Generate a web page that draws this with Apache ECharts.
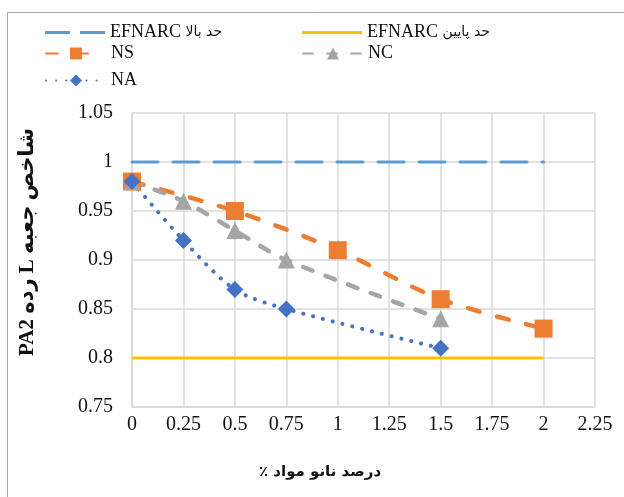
<!DOCTYPE html>
<html><head><meta charset="utf-8">
<script src="https://cdn.jsdelivr.net/npm/echarts@6/dist/echarts.min.js"></script>
<style>html,body{margin:0;padding:0;background:#fff}#c{width:624px;height:497px}</style>
</head><body><div id="c"></div>
<script>
// Data
const seriesNames = ['EFNARC حد بالا', 'EFNARC حد پایین', 'NS', 'NC', 'NA'];
const limitX = [0, 2];
const upperLimit = [1.0, 1.0];
const lowerLimit = [0.8, 0.8];
const nsX = [0, 0.5, 1, 1.5, 2];
const nsY = [0.98, 0.95, 0.91, 0.86, 0.83];
const ncX = [0, 0.25, 0.5, 0.75, 1.5];
const ncY = [0.98, 0.96, 0.93, 0.90, 0.84];
const naX = [0, 0.25, 0.5, 0.75, 1.5];
const naY = [0.98, 0.92, 0.87, 0.85, 0.81];
const xTitle = '٪ درصد نانو مواد';
const yTitle = 'PA2 رده L شاخص جعبه';

const pairs = (xs, ys) => xs.map((x, i) => [x, ys[i]]);
const serif = '"Liberation Serif", "Times New Roman", "DejaVu Sans", serif';
const chart = echarts.init(document.getElementById('c'), null, {renderer: 'canvas'});

// split latin / arabic parts so that Arabic can use a smaller font
const legendFmt = name => {
  const m = name.match(/^([A-Za-z0-9]+)\s+(.+)$/);
  return m ? '{a|' + m[1] + '} {b|' + m[2] + '}' : '{a|' + name + '}';
};
const legendBase = (item, left, centerY, h) => ({
  data: [item], left: left, top: centerY - h / 2, itemWidth: 60, itemHeight: h,
  padding: 0, formatter: legendFmt,
  textStyle: {fontFamily: serif, fontSize: 18, color: '#111',
    rich: {a: {fontFamily: serif, fontSize: 18, color: '#111'},
           b: {fontFamily: '"DejaVu Sans", sans-serif', fontSize: 14, color: '#111'}}}
});

chart.setOption({
  animation: false,
  backgroundColor: '#fff',
  legend: [
    legendBase({name: seriesNames[0], icon: 'path://M0,0h25v3h-25z M35,0h25v3h-25z',
      itemStyle: {color: '#5b9bd5', borderWidth: 0}, lineStyle: {width: 0}}, 45, 25, 3),
    legendBase({name: seriesNames[1], icon: 'rect',
      itemStyle: {color: '#ffc000', borderWidth: 0}, lineStyle: {width: 0}}, 302, 25, 3),
    legendBase(seriesNames[2], 45, 52, 15),
    legendBase(seriesNames[3], 302, 52, 15),
    legendBase(seriesNames[4], 45, 79, 15)
  ],
  grid: {left: 132, top: 113, right: 29, bottom: 90, containLabel: false},
  xAxis: {
    type: 'value', min: 0, max: 2.25, interval: 0.25,
    axisLine: {show: true, lineStyle: {color: '#d9d9d9', width: 1.5}},
    axisTick: {show: false},
    splitLine: {show: true, lineStyle: {color: '#d9d9d9', width: 1.5}},
    axisLabel: {fontFamily: serif, fontSize: 20, color: '#111', margin: 8,
      formatter: v => String(+v.toFixed(2))}
  },
  yAxis: {
    type: 'value', min: 0.75, max: 1.05, interval: 0.05,
    axisLine: {show: true, lineStyle: {color: '#d9d9d9', width: 1.5}},
    axisTick: {show: false},
    splitLine: {show: true, lineStyle: {color: '#d9d9d9', width: 1.5}},
    axisLabel: {fontFamily: serif, fontSize: 20, color: '#111', margin: 19,
      formatter: v => String(+v.toFixed(2))}
  },
  graphic: [
    {type: 'rect', left: 5, top: 10, silent: true,
      shape: {width: 700, height: 600}, style: {fill: 'none', stroke: '#a6a6a6', lineWidth: 1}},
    {type: 'text', x: 320, y: 472, silent: true,
      style: {text: xTitle, font: 'bold 15px "DejaVu Sans", sans-serif', fill: '#111', align: 'center', verticalAlign: 'middle'}},
    {type: 'text', x: 28, y: 242, rotation: Math.PI / 2, silent: true,
      style: {text: yTitle, font: 'bold 21px "Liberation Serif", "DejaVu Sans", serif', fill: '#111', align: 'center', verticalAlign: 'middle'}}
  ],
  series: [
    {name: seriesNames[0], type: 'line', data: pairs(limitX, upperLimit), symbol: 'none',
      itemStyle: {color: '#5b9bd5'},
      lineStyle: {color: '#5b9bd5', width: 3, type: [26, 15], cap: 'round'}},
    {name: seriesNames[1], type: 'line', data: pairs(limitX, lowerLimit), symbol: 'none',
      itemStyle: {color: '#ffc000'},
      lineStyle: {color: '#ffc000', width: 3}},
    {name: seriesNames[2], type: 'line', data: pairs(nsX, nsY), smooth: 0.3,
      symbol: 'rect', symbolSize: 18, itemStyle: {color: '#ed7d31'},
      lineStyle: {color: '#ed7d31', width: 4.5, type: [12, 18], cap: 'round'}},
    {name: seriesNames[3], type: 'line', data: pairs(ncX, ncY), smooth: 0.3,
      symbol: 'triangle', symbolSize: 17, itemStyle: {color: '#a5a5a5'},
      lineStyle: {color: '#a5a5a5', width: 4.5, type: [10, 14], cap: 'round'}},
    {name: seriesNames[4], type: 'line', data: pairs(naX, naY), smooth: 0.3,
      symbol: 'diamond', symbolSize: 17, itemStyle: {color: '#4472c4'},
      lineStyle: {color: '#4472c4', width: 4, type: [0.1, 10], cap: 'round'}}
  ]
});
</script></body></html>
